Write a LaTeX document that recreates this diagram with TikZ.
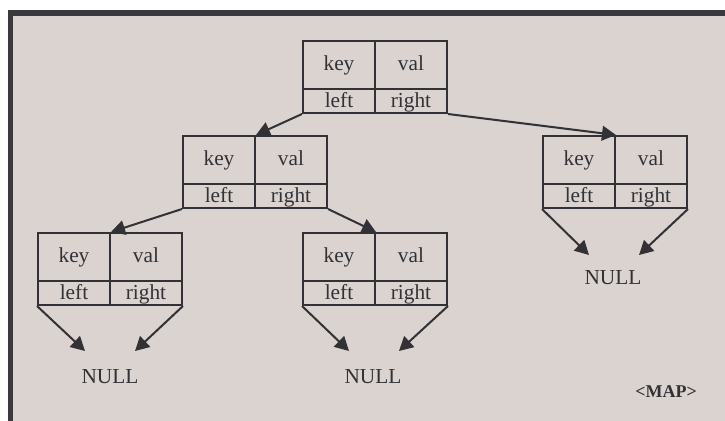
\documentclass[tikz,border=0pt]{standalone}
\usepackage{fontspec}
\setmainfont{Liberation Serif}
\usetikzlibrary{arrows.meta,calc}
\definecolor{paper}{RGB}{218,211,208}
\definecolor{frame}{RGB}{58,57,62}
\definecolor{ink}{RGB}{50,50,54}
\tikzset{
  cell/.style={draw=ink, line width=1.5pt, inner sep=0pt, anchor=north west,
    minimum width=54pt, font=\fontsize{16}{16}\selectfont, text=ink,
    text height=11pt, text depth=3.5pt},
  topcell/.style={cell, minimum height=36pt},
  botcell/.style={cell, minimum height=18pt, text height=12pt, text depth=2pt},
  link/.style={draw=ink, line width=1.5pt, -{Triangle[length=10.5pt,width=11pt]}},
  nulltext/.style={font=\fontsize{16}{16}\selectfont, text=ink, inner sep=0pt}
}
% one record: key | val over left | right, top-left corner at (#2,#3)
\newcommand\mapentry[3]{%
  \node[topcell] (#1-k) at (#2,#3) {key};
  \node[topcell] (#1-v) at (#2+72,#3) {val};
  \node[botcell] (#1-l) at (#2,#3+48) {left};
  \node[botcell] (#1-r) at (#2+72,#3+48) {right};
}
\begin{document}
\begin{tikzpicture}[x=0.75pt,y=-0.75pt]
\useasboundingbox (0,0) rectangle (725,421);
% frame and panel
\fill[frame] (8,10) rectangle (725,421);
\fill[paper] (13.3,15.5) rectangle (725,421);

\mapentry{A}{302}{40}
\mapentry{B}{182}{135}
\mapentry{C}{542}{135}
\mapentry{D}{37}{232}
\mapentry{E}{302}{232}

\node[nulltext] (N1) at (110,377) {NULL};
\node[nulltext] (N2) at (373,377) {NULL};
\node[nulltext] (N3) at (613,278) {NULL};
\node[font=\bfseries\fontsize{13.5}{13.5}\selectfont, text=ink, inner sep=0pt] (M) at (666,392) {<MAP>};

% child links
\draw[link] (A-l.south west) -- (B-k.north east);
\draw[link] (A-r.south east) -- (C-k.north east);
\draw[link] (B-l.south west) -- (D-k.north east);
\draw[link] (B-r.south east) -- (E-k.north east);

% null links
\draw[link] (D-l.south west) -- ([shift={(-25,-26)}]N1.center);
\draw[link] (D-r.south east) -- ([shift={(25,-26)}]N1.center);
\draw[link] (E-l.south west) -- ([shift={(-24,-26)}]N2.center);
\draw[link] (E-r.south east) -- ([shift={(26,-26)}]N2.center);
\draw[link] (C-l.south west) -- ([shift={(-24,-23)}]N3.center);
\draw[link] (C-r.south east) -- ([shift={(26,-23)}]N3.center);
\end{tikzpicture}
\end{document}
